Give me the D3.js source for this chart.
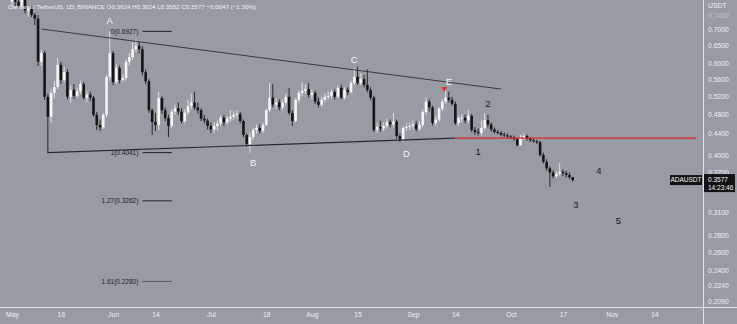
<!DOCTYPE html>
<html>
<head>
<meta charset="utf-8">
<script src="https://cdn.jsdelivr.net/npm/d3@7"></script>
<style>
  body { margin: 0; background: #999ba4; }
  svg { display: block; }
  text { font-family: "Liberation Sans", "DejaVu Sans", sans-serif; }
</style>
</head>
<body>
<div class="chart"></div>
<script>
// ADA/USDT daily candles, 1 May 2022 .. 20 Oct 2022
var startDay = "2022-05-01";

var opens = [0.790,0.798,0.790,0.776,0.810,0.760,0.765,0.745,0.733,0.605,
  0.629,0.518,0.474,0.527,0.541,0.597,0.558,0.578,0.518,0.534,
  0.520,0.531,0.548,0.516,0.523,0.516,0.478,0.457,0.452,0.478,
  0.566,0.629,0.553,0.589,0.558,0.563,0.605,0.618,0.640,0.650,
  0.640,0.578,0.555,0.488,0.463,0.457,0.515,0.488,0.471,0.455,
  0.485,0.492,0.485,0.465,0.483,0.497,0.505,0.494,0.488,0.470,
  0.466,0.455,0.448,0.455,0.460,0.472,0.462,0.470,0.474,0.478,
  0.480,0.465,0.437,0.420,0.433,0.447,0.451,0.445,0.457,0.488,
  0.516,0.500,0.505,0.494,0.505,0.518,0.482,0.465,0.511,0.527,
  0.532,0.536,0.522,0.527,0.507,0.500,0.511,0.518,0.520,0.529,
  0.518,0.539,0.516,0.534,0.529,0.551,0.566,0.551,0.560,0.546,
  0.534,0.516,0.447,0.453,0.450,0.455,0.463,0.458,0.464,0.435,
  0.428,0.451,0.453,0.455,0.458,0.449,0.457,0.484,0.507,0.494,
  0.461,0.468,0.491,0.507,0.516,0.511,0.502,0.461,0.471,0.472,
  0.466,0.476,0.447,0.443,0.441,0.451,0.467,0.458,0.448,0.443,
  0.441,0.438,0.436,0.434,0.432,0.429,0.418,0.432,0.435,0.430,
  0.427,0.425,0.423,0.400,0.388,0.377,0.370,0.364,0.368,0.371,
  0.369,0.366,0.3624];

var highs = [0.805,0.818,0.800,0.820,0.815,0.772,0.775,0.752,0.745,0.638,
  0.635,0.525,0.535,0.556,0.616,0.605,0.592,0.585,0.545,0.548,
  0.540,0.556,0.553,0.530,0.530,0.520,0.484,0.468,0.482,0.570,
  0.6927,0.635,0.600,0.595,0.572,0.612,0.630,0.660,0.668,0.662,
  0.648,0.585,0.560,0.492,0.482,0.530,0.520,0.494,0.478,0.490,
  0.500,0.505,0.492,0.490,0.511,0.525,0.530,0.505,0.492,0.478,
  0.470,0.462,0.462,0.466,0.478,0.478,0.475,0.488,0.486,0.488,
  0.484,0.468,0.440,0.442,0.452,0.458,0.458,0.462,0.492,0.551,
  0.548,0.515,0.512,0.512,0.525,0.539,0.488,0.515,0.532,0.553,
  0.548,0.551,0.535,0.532,0.516,0.518,0.525,0.530,0.535,0.535,
  0.545,0.546,0.540,0.540,0.556,0.589,0.592,0.575,0.570,0.585,
  0.540,0.520,0.460,0.466,0.462,0.470,0.468,0.482,0.468,0.440,
  0.455,0.460,0.462,0.466,0.465,0.465,0.490,0.516,0.512,0.498,
  0.475,0.495,0.512,0.534,0.530,0.518,0.507,0.476,0.480,0.478,
  0.488,0.480,0.453,0.450,0.466,0.482,0.478,0.462,0.452,0.447,
  0.445,0.442,0.440,0.437,0.436,0.432,0.438,0.440,0.438,0.433,
  0.430,0.428,0.426,0.404,0.392,0.380,0.374,0.372,0.386,0.375,
  0.373,0.370,0.3624];

var lows = [0.770,0.775,0.765,0.770,0.750,0.740,0.738,0.712,0.594,0.594,
  0.511,0.403,0.462,0.515,0.535,0.549,0.553,0.512,0.505,0.513,
  0.515,0.525,0.512,0.506,0.508,0.474,0.447,0.445,0.449,0.472,
  0.556,0.545,0.548,0.550,0.552,0.556,0.595,0.610,0.632,0.628,
  0.570,0.548,0.482,0.437,0.445,0.447,0.480,0.465,0.433,0.450,
  0.478,0.478,0.460,0.460,0.478,0.490,0.488,0.480,0.465,0.460,
  0.448,0.441,0.440,0.446,0.455,0.455,0.458,0.463,0.468,0.470,
  0.460,0.433,0.415,0.404,0.428,0.440,0.440,0.441,0.455,0.484,
  0.494,0.490,0.488,0.488,0.500,0.478,0.455,0.462,0.505,0.520,
  0.525,0.516,0.512,0.502,0.494,0.496,0.505,0.512,0.514,0.512,
  0.515,0.512,0.512,0.522,0.525,0.545,0.546,0.545,0.540,0.528,
  0.510,0.443,0.441,0.444,0.444,0.450,0.452,0.452,0.430,0.424,
  0.424,0.445,0.446,0.448,0.444,0.445,0.452,0.478,0.485,0.456,
  0.455,0.464,0.486,0.502,0.505,0.498,0.457,0.455,0.462,0.460,
  0.460,0.443,0.437,0.436,0.436,0.447,0.452,0.443,0.440,0.438,
  0.435,0.433,0.431,0.429,0.426,0.415,0.416,0.428,0.426,0.424,
  0.422,0.420,0.397,0.385,0.373,0.347,0.360,0.361,0.364,0.364,
  0.362,0.359,0.3552];

var closes = [0.798,0.790,0.776,0.810,0.760,0.765,0.745,0.733,0.605,0.629,
  0.518,0.474,0.527,0.541,0.597,0.558,0.578,0.518,0.534,0.520,
  0.531,0.548,0.516,0.523,0.516,0.478,0.457,0.452,0.478,0.566,
  0.629,0.553,0.589,0.558,0.563,0.605,0.618,0.640,0.650,0.640,
  0.578,0.555,0.488,0.463,0.457,0.515,0.488,0.471,0.455,0.485,
  0.492,0.485,0.465,0.483,0.497,0.505,0.494,0.488,0.470,0.466,
  0.455,0.448,0.455,0.460,0.472,0.462,0.470,0.474,0.478,0.480,
  0.465,0.437,0.420,0.433,0.447,0.451,0.445,0.457,0.488,0.516,
  0.500,0.505,0.494,0.505,0.518,0.482,0.465,0.511,0.527,0.532,
  0.536,0.522,0.527,0.507,0.500,0.511,0.518,0.520,0.529,0.518,
  0.539,0.516,0.534,0.529,0.551,0.566,0.551,0.560,0.546,0.534,
  0.516,0.447,0.453,0.450,0.455,0.463,0.458,0.464,0.435,0.428,
  0.451,0.453,0.455,0.458,0.449,0.457,0.484,0.507,0.494,0.461,
  0.468,0.491,0.507,0.516,0.511,0.502,0.461,0.471,0.472,0.466,
  0.476,0.447,0.443,0.441,0.451,0.467,0.458,0.448,0.443,0.441,
  0.438,0.436,0.434,0.432,0.429,0.418,0.432,0.435,0.430,0.427,
  0.425,0.423,0.400,0.388,0.377,0.370,0.364,0.368,0.371,0.369,
  0.366,0.3624,0.3577];

// axis ticks
var priceTicks = [0.7450, 0.7000, 0.6500, 0.6000, 0.5600, 0.5200, 0.4800, 0.4400,
  0.4000, 0.3700, 0.3100, 0.2800, 0.2600, 0.2400, 0.2240, 0.2090];
var dateTicks = ["2022-05-01","2022-05-16","2022-06-01","2022-06-14","2022-07-01","2022-07-18",
  "2022-08-01","2022-08-15","2022-09-01","2022-09-14","2022-10-01","2022-10-17",
  "2022-11-01","2022-11-14"];
var dateTickLabels = ["May","16","Jun","14","Jul","18","Aug","15","Sep","14","Oct","17","Nov","14"];

// drawings: trendlines, support, fib levels, wave labels
var upperLine = [["2022-05-10", 0.700], ["2022-09-28", 0.536]];
var lowerLine = [["2022-05-12", 0.404], ["2022-09-14", 0.431]];
var supportLine = [["2022-09-14", 0.431], ["2022-11-27", 0.431]];
var fibNames = ["0", "1", "1.27", "1.61"];
var fibPrices = [0.6927, 0.4041, 0.3262, 0.2280];
var fibSpan = ["2022-06-10", "2022-06-19"];
var waveNames = ["A", "B", "C", "D", "E", "1", "2", "3", "4", "5"];
var waveDates = ["2022-05-31","2022-07-14","2022-08-14","2022-08-30","2022-09-12",
  "2022-09-21","2022-09-24","2022-10-21","2022-10-28","2022-11-03"];
var wavePrices = [0.725, 0.386, 0.610, 0.403, 0.553, 0.405, 0.502, 0.321, 0.373, 0.299];
var lastPrice = 0.3577;

var svgWidth = 737;
var svgHeight = 324;
var plotRight = 703;
var plotBottom = 307;

var parseDay = d3.timeParse("%Y-%m-%d");
var start = parseDay(startDay);
var days = closes.map((d, i) => d3.timeDay.offset(start, i));

var svg = d3.select(".chart")
  .append("svg")
  .attr("width", svgWidth)
  .attr("height", svgHeight);

svg.append("rect")
  .attr("width", svgWidth)
  .attr("height", svgHeight)
  .attr("fill", "#999ba4");

var x = d3.scaleTime()
  .domain([start, parseDay("2022-10-20")])
  .range([12, 572.7]);

var y = d3.scaleLog()
  .domain([0.209, 0.7])
  .range([301, 29]);

var plot = svg.append("g");

// candles
var candles = plot.selectAll(".candle")
  .data(closes)
  .enter()
  .append("g")
  .attr("class", "candle");

candles.append("line")
  .attr("x1", (d, i) => x(days[i]))
  .attr("x2", (d, i) => x(days[i]))
  .attr("y1", (d, i) => y(highs[i]))
  .attr("y2", (d, i) => y(lows[i]))
  .attr("stroke", (d, i) => closes[i] >= opens[i] ? "#e6e6e6" : "#1c1c1c")
  .attr("stroke-width", 0.9);

candles.append("rect")
  .attr("x", (d, i) => x(days[i]) - 1.3)
  .attr("width", 2.6)
  .attr("y", (d, i) => Math.min(y(opens[i]), y(closes[i])))
  .attr("height", (d, i) => Math.max(1, Math.abs(y(opens[i]) - y(closes[i]))))
  .attr("fill", (d, i) => closes[i] >= opens[i] ? "#f5f5f5" : "#151515");

// trendlines
var line = d3.line()
  .x(d => x(parseDay(d[0])))
  .y(d => y(d[1]));

plot.append("path")
  .attr("d", line(upperLine))
  .attr("fill", "none")
  .attr("stroke", "#3a3a3e")
  .attr("stroke-width", 1);

plot.append("path")
  .attr("d", line(lowerLine))
  .attr("fill", "none")
  .attr("stroke", "#2a2a2e")
  .attr("stroke-width", 1.2);

plot.append("path")
  .attr("d", line(supportLine))
  .attr("fill", "none")
  .attr("stroke", "#d8282a")
  .attr("stroke-width", 1.3);

// fib extension levels
fibPrices.forEach(function (p, i) {
  plot.append("line")
    .attr("x1", x(parseDay(fibSpan[0])))
    .attr("x2", x(parseDay(fibSpan[1])))
    .attr("y1", y(p))
    .attr("y2", y(p))
    .attr("stroke", i == 3 ? "#55565c" : "#222226")
    .attr("stroke-width", 1);

  plot.append("text")
    .attr("x", x(parseDay(fibSpan[0])) - 4)
    .attr("y", y(p))
    .attr("dy", "0.35em")
    .attr("text-anchor", "end")
    .style("font-size", "6.5px")
    .style("fill", "#1e1e22")
    .text(fibNames[i] + "(" + p.toFixed(4) + ")");
});

// wave labels
waveNames.forEach(function (n, i) {
  var isLetter = isNaN(+n);
  plot.append("text")
    .attr("x", x(parseDay(waveDates[i])))
    .attr("y", y(wavePrices[i]))
    .attr("dy", "0.35em")
    .attr("text-anchor", "middle")
    .style("font-size", "9.5px")
    .style("fill", isLetter ? "#f4f4f4" : "#1c1c20")
    .text(n);
});

// red marker over E
var ex = x(parseDay("2022-09-10")) + 2;
var ey = y(0.534);
plot.append("path")
  .attr("d", `M${ex - 3},${ey - 3}L${ex + 3},${ey - 3}L${ex},${ey + 2}Z`)
  .attr("fill", "#e03030");

// axis frames
svg.append("line")
  .attr("x1", plotRight + 0.5).attr("x2", plotRight + 0.5)
  .attr("y1", 0).attr("y2", svgHeight)
  .attr("stroke", "#e2e3e8").attr("stroke-width", 1);

svg.append("line")
  .attr("x1", 0).attr("x2", svgWidth)
  .attr("y1", plotBottom + 0.5).attr("y2", plotBottom + 0.5)
  .attr("stroke", "#e2e3e8").attr("stroke-width", 1);

// price axis
var rightAxis = d3.axisRight(y)
  .tickValues(priceTicks)
  .tickFormat(d3.format(".4f"))
  .tickSize(0)
  .tickPadding(0);

var yAxis = svg.append("g")
  .attr("transform", `translate(${plotRight + 5}, 0)`)
  .call(rightAxis);

yAxis.select(".domain").remove();
yAxis.selectAll("text")
  .style("font-size", "6.8px")
  .style("fill", "#eeeef2")
  .style("opacity", d => d == 0.745 ? 0.45 : 1);

svg.append("text")
  .attr("x", plotRight + 5)
  .attr("y", 8)
  .style("font-size", "6.8px")
  .style("fill", "#eeeef2")
  .text("USDT");

// time axis
var bottomAxis = d3.axisBottom(x)
  .tickValues(dateTicks.map(parseDay))
  .tickFormat((d, i) => dateTickLabels[i])
  .tickSize(0)
  .tickPadding(5);

var xAxis = svg.append("g")
  .attr("transform", `translate(0, ${plotBottom})`)
  .call(bottomAxis);

xAxis.select(".domain").remove();
xAxis.selectAll("text")
  .style("font-size", "6.8px")
  .style("fill", "#eeeef2");

// last price tag
var ly = y(lastPrice);
svg.append("rect")
  .attr("x", 670).attr("y", ly - 5)
  .attr("width", 32).attr("height", 10)
  .attr("fill", "#131316");
svg.append("text")
  .attr("x", 686).attr("y", ly)
  .attr("dy", "0.35em")
  .attr("text-anchor", "middle")
  .style("font-size", "6.5px")
  .style("fill", "#f4f4f4")
  .text("ADAUSDT");

svg.append("rect")
  .attr("x", plotRight + 1).attr("y", ly - 6)
  .attr("width", 31).attr("height", 18)
  .attr("fill", "#131316");
svg.append("text")
  .attr("x", plotRight + 5).attr("y", ly)
  .attr("dy", "0.35em")
  .style("font-size", "6.5px")
  .style("fill", "#f4f4f4")
  .text(lastPrice.toFixed(4));
svg.append("text")
  .attr("x", plotRight + 5).attr("y", ly + 8)
  .attr("dy", "0.35em")
  .style("font-size", "6.5px")
  .style("fill", "#f4f4f4")
  .text("14:23:46");

// legend line
var last = closes.length - 1;
var change = closes[last] - closes[last - 1];
svg.append("text")
  .attr("x", 8)
  .attr("y", 9)
  .style("font-size", "6.2px")
  .style("fill", "#f2f2f4")
  .text("Cardano / TetherUS, 1D, BINANCE  O" + opens[last].toFixed(4) +
    " H" + highs[last].toFixed(4) + " L" + lows[last].toFixed(4) +
    " C" + closes[last].toFixed(4) + " \u2212" + Math.abs(change).toFixed(4) +
    " (\u2212" + Math.abs(change / closes[last - 1] * 100).toFixed(2) + "%)");
</script>
</body>
</html>
